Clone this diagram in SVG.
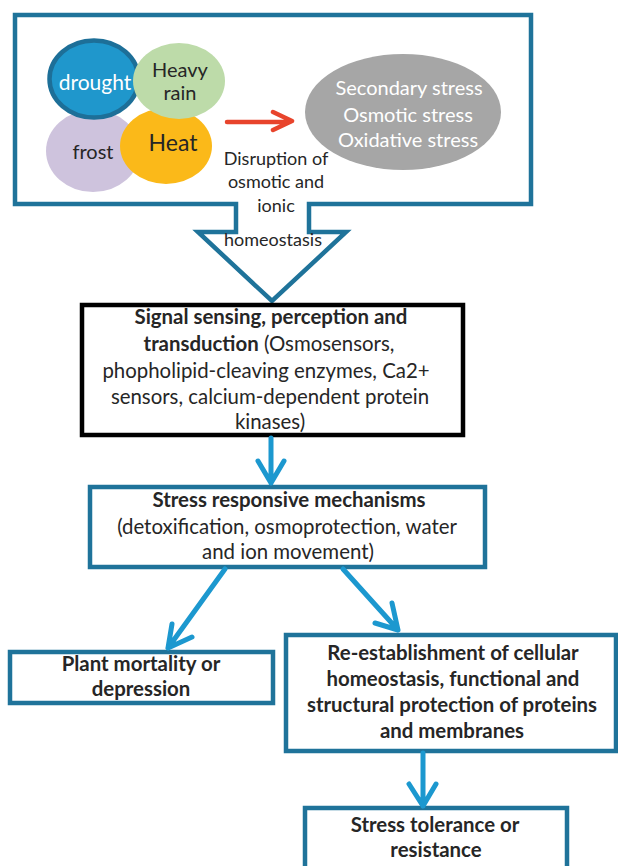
<svg xmlns="http://www.w3.org/2000/svg" width="618" height="866" viewBox="0 0 618 866">
<defs>
<style>
text{font-family:Lato,"Noto Sans","Liberation Sans",sans-serif;fill:#262626;text-anchor:middle}
.b{font-weight:bold}
.w{fill:#ffffff}
.box{fill:#ffffff;stroke:#1f739a;stroke-width:4.5}
.blk{fill:#ffffff;stroke:#000000;stroke-width:4.5}
.arr{fill:none;stroke:#1c98cf;stroke-width:5;stroke-linecap:round;stroke-linejoin:round}
.red{fill:none;stroke:#e8442c;stroke-width:4.5;stroke-linecap:round;stroke-linejoin:round}
.t20{font-size:20px}
.t18{font-size:20.4px}
.t17{font-size:18px}
</style>
</defs>
<rect width="618" height="866" fill="#ffffff"/>

<g id="stressors">
<path class="box" d="M15,15 H531 V204 H309 V232 H346 L272,301 L198,232 H236 V204 H15 Z"/>
<ellipse id="frost" cx="93" cy="151" rx="47" ry="41" fill="#cec3dd"/>
<ellipse id="drought" cx="94" cy="79" rx="44.5" ry="38.5" fill="#1f97cc" stroke="#1d6f98" stroke-width="4.5"/>
<ellipse id="heat" cx="166" cy="146" rx="46" ry="38" fill="#fbb919"/>
<ellipse id="heavy-rain" cx="179" cy="81" rx="46" ry="38" fill="#bddba9"/>
<text x="95" y="90" class="w" style="font-size:21px">drought</text>
<text class="t20" x="180" y="77">Heavy</text>
<text class="t20" x="180" y="100">rain</text>
<text class="t20" x="93" y="159">frost</text>
<text x="173" y="151" style="font-size:23px">Heat</text>
<text class="t17" x="276" y="165">Disruption of</text>
<text class="t17" x="276" y="188">osmotic and</text>
<text class="t17" x="276" y="212">ionic</text>
<text class="t17" x="273" y="246">homeostasis</text>
</g>

<g id="secondary-stress">
<ellipse cx="403" cy="112" rx="98" ry="58" fill="#a6a6a6"/>
<text class="t20 w" x="409" y="95">Secondary stress</text>
<text class="t20 w" x="408" y="122">Osmotic stress</text>
<text class="t20 w" x="408" y="147">Oxidative stress</text>
</g>

<g id="signal">
<rect class="blk" x="82" y="305" width="381" height="130"/>
<text class="t18" x="271" y="324"><tspan class="b">Signal sensing, perception and</tspan></text>
<text class="t18" x="269" y="351"><tspan class="b">transduction</tspan> (Osmosensors,</text>
<text class="t18" x="266" y="378">phopholipid-cleaving enzymes, Ca2+</text>
<text class="t18" x="270" y="404">sensors, calcium-dependent protein</text>
<text class="t18" x="270" y="429">kinases)</text>
</g>

<g id="responsive">
<rect class="box" x="90" y="487" width="395" height="80"/>
<text class="t18 b" x="289" y="507">Stress responsive  mechanisms</text>
<text class="t18" x="287" y="534">(detoxification, osmoprotection, water</text>
<text class="t18" x="288" y="559">and ion movement)</text>
</g>

<g id="mortality">
<rect class="box" x="10" y="652" width="263" height="51"/>
<text class="t18 b" x="141" y="671">Plant mortality or</text>
<text class="t18 b" x="141" y="696">depression</text>
</g>

<g id="reestablishment">
<rect class="box" x="286" y="635" width="330" height="116"/>
<text class="t18 b" x="453" y="660">Re-establishment of cellular</text>
<text class="t18 b" x="453" y="686">homeostasis, functional  and</text>
<text class="t18 b" x="452" y="712">structural protection of proteins</text>
<text class="t18 b" x="452" y="738">and membranes</text>
</g>

<g id="tolerance">
<rect class="box" x="305" y="808" width="262" height="80"/>
<text class="t18 b" x="435" y="832">Stress tolerance or</text>
<text class="t18 b" x="436" y="857">resistance</text>
</g>

<g id="connectors">
<path class="red" d="M227,122 H290 M273,112 L292,121 L273,130"/>
<path class="arr" d="M271,438 V483 M258,461 L271,483 L284,461"/>
<path class="arr" d="M225,569 L168,648 M172,624 L168,648 L192,637"/>
<path class="arr" d="M343,569 L398,630 M392,603 L398,630 L375,623"/>
<path class="arr" d="M423,753 V806 M409,784 L423,806 L436,784"/>
</g>
</svg>
